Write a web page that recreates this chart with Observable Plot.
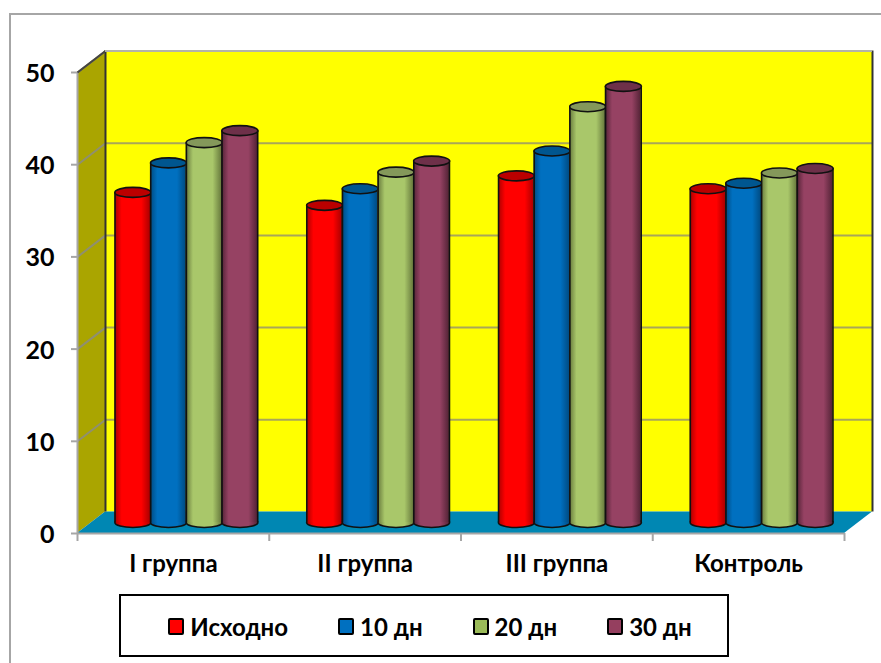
<!DOCTYPE html>
<html lang="ru">
<head>
<meta charset="utf-8">
<script src="https://cdn.jsdelivr.net/npm/d3@7"></script>
<script src="https://cdn.jsdelivr.net/npm/@observablehq/plot@0.6"></script>
<style>
  html, body { margin: 0; padding: 0; background: #fff; overflow: hidden; }
  body { width: 881px; height: 663px; position: relative; font-family: Lato, sans-serif; }
  #frame { position: absolute; left: 9px; top: 13px; width: 900px; height: 700px;
           border-left: 2px solid #a6a6a6; border-top: 2px solid #a6a6a6; }
  #chart { position: absolute; left: 0; top: 0; }
  #chart svg { display: block; }
  #legend { position: absolute; left: 119px; top: 594px; width: 594px; height: 58px;
            padding: 1px 0 0 12px; border: 2px solid #000; background: #fff; display: flex; align-items: center;
            justify-content: center; gap: 50px; font-weight: 700; font-size: 24px; color: #000; }
  #legend .item { display: flex; align-items: center; gap: 6px; }
  #legend .swatch { width: 12px; height: 13px; border: 2px solid #000; border-radius: 2px; }
</style>
</head>
<body>
<div id="frame"></div>
<div id="chart"></div>
<div id="legend"></div>
<script>
// Category names and series readings
const groups = ["I группа", "II группа", "III группа", "Контроль"];
const seriesNames = ["Исходно", "10 дн", "20 дн", "30 дн"];
const baseline = [35.8, 34.4, 37.6, 36.2];
const day10 = [39.0, 36.2, 40.3, 36.8];
const day20 = [41.2, 38.0, 45.1, 37.9];
const day30 = [42.5, 39.2, 47.3, 38.4];
const seriesValues = [baseline, day10, day20, day30];
const yTicks = [0, 10, 20, 30, 40, 50];

// Colours: body tone, shaded edge tone, top cap tone, legend key
const bodyColors = ["#ff0000", "#0070c0", "#a9c76a", "#964263"];
const edgeColors = ["#a80000", "#004a80", "#66783c", "#532336"];
const capColors = ["#bb0000", "#00568f", "#84985a", "#6e3049"];
const keyColors = ["#ff0000", "#0070c0", "#9bbb59", "#953f5f"];

// Depth of the pseudo-3D box in data units, and the cylinder footprint
const depthX = 0.146;
const depthY = 2.33;
const barWidth = 0.186;

const rowsFor = (values) => values.map((value, g) => ({ g, value }));

// Cylinder cap: an ellipse flattened by the viewing angle
const ellipse = {
  draw(ctx) {
    const rx = 18, ry = 5, kx = rx * 0.5523, ky = ry * 0.5523;
    ctx.moveTo(-rx, 0);
    ctx.bezierCurveTo(-rx, -ky, -kx, -ry, 0, -ry);
    ctx.bezierCurveTo(kx, -ry, rx, -ky, rx, 0);
    ctx.bezierCurveTo(rx, ky, kx, ry, 0, ry);
    ctx.bezierCurveTo(-kx, ry, -rx, ky, -rx, 0);
    ctx.closePath();
  }
};

// Horizontal shading that makes each bar read as round
function gradientDefs() {
  const defs = d3.create("svg:defs");
  bodyColors.forEach((body, i) => {
    const grad = defs.append("linearGradient").attr("id", `cyl${i}`)
      .attr("x1", 0).attr("x2", 1).attr("y1", 0).attr("y2", 0);
    [[0, edgeColors[i]], [0.2, body], [0.75, body], [1, edgeColors[i]]].forEach(([o, c]) =>
      grad.append("stop").attr("offset", o).attr("stop-color", c));
  });
  return defs.node();
}

// One cylinder series: base ellipse, shaded body, side outlines, top cap
function cylinders(values, i) {
  const rows = rowsFor(values);
  const left = (d) => d.g + 0.5 + (i - 2) * barWidth;
  const right = (d) => left(d) + barWidth;
  const mid = (d) => left(d) + barWidth / 2;
  const shift = { dx: 13, dy: -11 };
  const outline = { stroke: "#111", strokeWidth: 1.6 };
  return [
    Plot.dot(rows, { x: mid, y: () => 0, symbol: ellipse, fill: `url(#cyl${i})`, ...outline, ...shift }),
    Plot.rect(rows, { x1: left, x2: right, y1: () => 0, y2: "value", fill: `url(#cyl${i})`, ...shift }),
    Plot.ruleX(rows, { x: left, y1: () => 0, y2: "value", ...outline, ...shift }),
    Plot.ruleX(rows, { x: right, y1: () => 0, y2: "value", ...outline, ...shift }),
    Plot.dot(rows, { x: mid, y: "value", symbol: ellipse, fill: capColors[i], ...outline, ...shift })
  ];
}

const gridTicks = yTicks.slice(1);

const chart = Plot.plot({
  width: 881,
  height: 590,
  marginLeft: 77,
  marginRight: 37,
  marginTop: 72,
  marginBottom: 57,
  style: { background: "transparent", fontFamily: "Lato, sans-serif", overflow: "visible" },
  x: { domain: [0, 4], range: [77, 844] },
  y: { domain: [0, 50], range: [533, 72] },
  marks: [
    gradientDefs,
    // Back wall
    Plot.rect([{}], { x1: () => depthX, x2: () => 4 + depthX, y1: () => depthY, y2: () => 50 + depthY, fill: "#ffff00" }),
    // Side wall
    Plot.area([{ x: 0, lo: 0, hi: 50 }, { x: depthX, lo: depthY, hi: 50 + depthY }],
      { x1: "x", y1: "lo", y2: "hi", fill: "#aaa500" }),
    // Floor
    Plot.area([{ y: 0, a: 0, b: 4 }, { y: depthY, a: depthX, b: 4 + depthX }],
      { y1: "y", x1: "a", x2: "b", fill: "#0087b3" }),
    // Gridlines across both walls
    Plot.ruleY(gridTicks, { x1: () => depthX, x2: () => 4 + depthX, y: (v) => v + depthY, stroke: "#a9a658", strokeWidth: 2 }),
    Plot.link(gridTicks, { x1: () => 0, x2: () => depthX, y1: (v) => v, y2: (v) => v + depthY, stroke: "#8f8f70", strokeWidth: 2 }),
    // Box edges
    Plot.ruleX([depthX, 4 + depthX], { y1: () => depthY, y2: () => 50 + depthY, stroke: "#333", strokeWidth: 2 }),
    Plot.ruleX([0], { y1: () => 0, y2: () => 50, stroke: "#a6a6a6", strokeWidth: 2 }),
    Plot.link([50], { x1: () => 0, x2: () => depthX, y1: (v) => v, y2: (v) => v + depthY, stroke: "#444", strokeWidth: 2 }),
    Plot.ruleY([50 + depthY], { x1: () => depthX, x2: () => 4 + depthX, stroke: "#b4b4a8", strokeWidth: 2 }),
    Plot.ruleY([0], { x1: () => 0, x2: () => 4, stroke: "#a6a6a6", strokeWidth: 2 }),
    // Cylinders, drawn left to right so each overlaps its neighbour
    ...seriesValues.flatMap(cylinders),
    // Axes: tick marks and labels are separate so the labels can sit a little lower
    Plot.axisY({ ticks: yTicks, tickSize: 6, stroke: "#a6a6a6", strokeWidth: 2, tickFormat: () => "", label: null }),
    Plot.axisY({ ticks: yTicks, tickSize: 0, tickPadding: 23, dy: 1.5, fill: "#000", fontSize: 25, fontWeight: 700, label: null, tickFormat: (d) => d }),
    Plot.axisX({ ticks: [0, 1, 2, 3, 4], tickSize: 8, stroke: "#a6a6a6", strokeWidth: 2, tickFormat: () => "", label: null }),
    Plot.axisX({ ticks: [0.5, 1.5, 2.5, 3.5], tickSize: 0, tickPadding: 21, fill: "#000", fontSize: 24, fontWeight: 700, label: null, tickFormat: (d) => groups[d - 0.5] })
  ]
});
document.getElementById("chart").append(chart);

// Legend box below the plot
const legend = d3.select("#legend");
seriesNames.forEach((name, i) => {
  const item = legend.append("div").attr("class", "item");
  item.append("span").attr("class", "swatch").style("background", keyColors[i]);
  item.append("span").text(name);
});
</script>
</body>
</html>
